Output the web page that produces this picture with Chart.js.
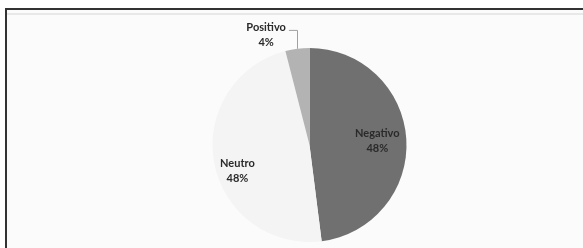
<!DOCTYPE html>
<html>
<head>
<meta charset="utf-8">
<script src="https://cdn.jsdelivr.net/npm/chart.js@4/dist/chart.umd.min.js"></script>
<style>
    html, body { margin: 0; padding: 0; background: #ffffff; }
    #wrap { position: relative; width: 583px; height: 248px; overflow: hidden; }
    .frame { position: absolute; left: 5px; top: 8px; width: 600px; height: 260px;
             border-top: 2px solid #333333; border-left: 2px solid #333333; background: #fbfbfb; }
    .inner-line { position: absolute; left: 7px; top: 13px; width: 600px; height: 2px; background: #e8e8e8; }
    canvas { position: absolute; left: 0; top: 0; }
</style>
</head>
<body>
<div id="wrap">
    <div class="frame"></div>
    <div class="inner-line"></div>
    <canvas id="pieChart" width="583" height="248"></canvas>
</div>
<script>
// Data
const categories = ['Negativo', 'Neutro', 'Positivo'];
const shares = [48, 48, 4];

const sliceColors = ['#707070', '#f4f4f4', '#b3b3b3'];

// label placement: radius fraction, angle nudge (deg), outside with leader line
const labelStyle = [
    { r: 0.70, shift: 0, outside: false },
    { r: 0.79, shift: -9, outside: false },
    { r: 1.22, shift: -14.3, outside: true }
];

const pieLabels = {
    id: 'pieLabels',
    afterDatasetsDraw(chart) {
        const ctx = chart.ctx;
        const arcs = chart.getDatasetMeta(0).data;
        ctx.save();
        ctx.font = 'bold 11px Lato, "Liberation Sans", sans-serif';
        ctx.fillStyle = '#2a2a2a';
        ctx.textAlign = 'center';
        ctx.textBaseline = 'middle';
        arcs.forEach((arc, i) => {
            const p = arc.getProps(['x', 'y', 'startAngle', 'endAngle', 'outerRadius'], true);
            const st = labelStyle[i];
            const mid = (p.startAngle + p.endAngle) / 2;
            const a = mid + st.shift * Math.PI / 180;
            const lx = p.x + Math.cos(a) * p.outerRadius * st.r;
            const ly = p.y + Math.sin(a) * p.outerRadius * st.r;
            ctx.fillText(categories[i], lx, ly - 7.5);
            ctx.fillText(shares[i] + '%', lx, ly + 7.5);
            if (st.outside) {
                const ex = p.x + Math.cos(mid) * p.outerRadius;
                const ey = p.y + Math.sin(mid) * p.outerRadius;
                const w = ctx.measureText(categories[i]).width;
                ctx.strokeStyle = '#a0a0a0';
                ctx.lineWidth = 1;
                ctx.beginPath();
                ctx.moveTo(lx + w / 2 + 3, ly - 4.5);
                ctx.lineTo(Math.round(ex) + 0.5, ly - 4.5);
                ctx.lineTo(Math.round(ex) + 0.5, ey);
                ctx.stroke();
            }
        });
        ctx.restore();
    }
};

new Chart(document.getElementById('pieChart'), {
    type: 'pie',
    data: {
        labels: categories,
        datasets: [{
            data: shares,
            backgroundColor: sliceColors,
            borderWidth: 0
        }]
    },
    options: {
        responsive: false,
        animation: false,
        layout: { padding: { top: 48, bottom: 6, left: 212, right: 176 } },
        plugins: {
            legend: { display: false },
            tooltip: { enabled: false }
        }
    },
    plugins: [pieLabels]
});
</script>
</body>
</html>
